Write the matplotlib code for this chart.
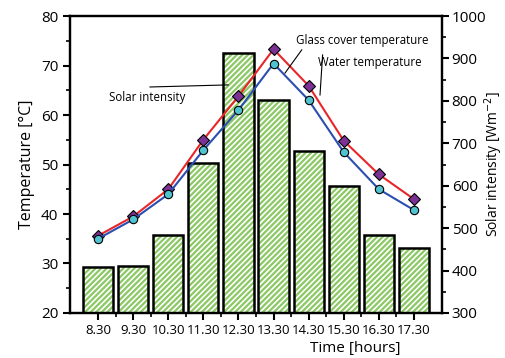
import numpy as np
import matplotlib.pyplot as plt
from matplotlib.ticker import MultipleLocator

plt.rcParams.update({
    "font.family": ["Open Sans", "DejaVu Sans"],
    "font.size": 10,
    "axes.linewidth": 1.6,
    "hatch.linewidth": 1.2,
})

# 数据
times = ['8.30', '9.30', '10.30', '11.30', '12.30', '13.30', '14.30', '15.30', '16.30', '17.30']
solar = [408, 411, 483, 654, 912, 802, 682, 600, 484, 453]
glass_t = [35.6, 39.5, 45.0, 55.0, 63.8, 73.3, 65.9, 54.8, 48.0, 43.0]
water_t = [35.0, 38.9, 44.0, 52.9, 61.0, 70.4, 63.0, 52.5, 45.0, 40.8]

x = np.arange(len(times))

fig = plt.figure(figsize=(5.05, 3.58), dpi=100)
ax = fig.add_axes([0.1386, 0.1257, 0.7367, 0.8296])
ax2 = ax.twinx()

# 柱状图（右轴）
ax2.bar(x, solar, width=0.86, color='#8cc865', edgecolor='white', hatch='//////', linewidth=0)
ax2.bar(x, solar, width=0.86, fill=False, edgecolor='black', linewidth=1.8)

# 温度曲线（左轴）
ax.set_zorder(ax2.get_zorder() + 1)
ax.patch.set_visible(False)
ax.plot(x, glass_t, '-', color='#e8262a', linewidth=1.5, marker='D', markersize=6,
        markerfacecolor='#7b3294', markeredgecolor='black', markeredgewidth=0.8)
ax.plot(x, water_t, '-', color='#2b4fb0', linewidth=1.5, marker='o', markersize=6,
        markerfacecolor='#4fc3d0', markeredgecolor='black', markeredgewidth=0.8)

ax.set_xlim(-0.8, len(times) - 0.2)
ax.set_ylim(20, 80)
ax2.set_ylim(300, 1000)
ax.yaxis.set_major_locator(MultipleLocator(10))
ax.yaxis.set_minor_locator(MultipleLocator(5))
ax2.yaxis.set_major_locator(MultipleLocator(100))
ax2.yaxis.set_minor_locator(MultipleLocator(50))
ax.set_xticks(x)
ax.set_xticklabels(times)
ax.set_xticks(x[:-1] + 0.5, minor=True)

ax.tick_params(axis='both', which='major', direction='out', length=5, width=1.5, labelsize=11)
ax.tick_params(axis='both', which='minor', direction='out', length=3, width=1.2)
ax.tick_params(axis='x', labelsize=9.5, pad=3)
ax2.tick_params(axis='y', which='major', direction='out', length=5, width=1.5, labelsize=11, pad=2)
ax2.tick_params(axis='y', which='minor', direction='out', length=3, width=1.2)

ax.set_ylabel('Temperature [°C]', fontsize=11.5, labelpad=4)
ax2.set_ylabel('Solar intensity [Wm$^{-2}$]', fontsize=10, labelpad=-3)
ax.set_xlabel('Time [hours]', fontsize=11)
ax.xaxis.set_label_coords(0.766, -0.095)

# 标注
ax.text(0.207, 0.724, 'Solar intensity', transform=ax.transAxes, fontsize=8.3,
        ha='center', va='center')
ax.plot([0.215, 0.425], [0.761, 0.768], transform=ax.transAxes, color='black', lw=0.8)
ax.text(0.785, 0.916, 'Glass cover temperature', transform=ax.transAxes, fontsize=8.3,
        ha='center', va='center')
ax.plot([0.623, 0.578], [0.886, 0.808], transform=ax.transAxes, color='black', lw=0.8)
ax.text(0.806, 0.842, 'Water temperature', transform=ax.transAxes, fontsize=8.3,
        ha='center', va='center')
ax.plot([0.679, 0.672], [0.869, 0.734], transform=ax.transAxes, color='black', lw=0.8)

fig.savefig('out.png', dpi=100)
